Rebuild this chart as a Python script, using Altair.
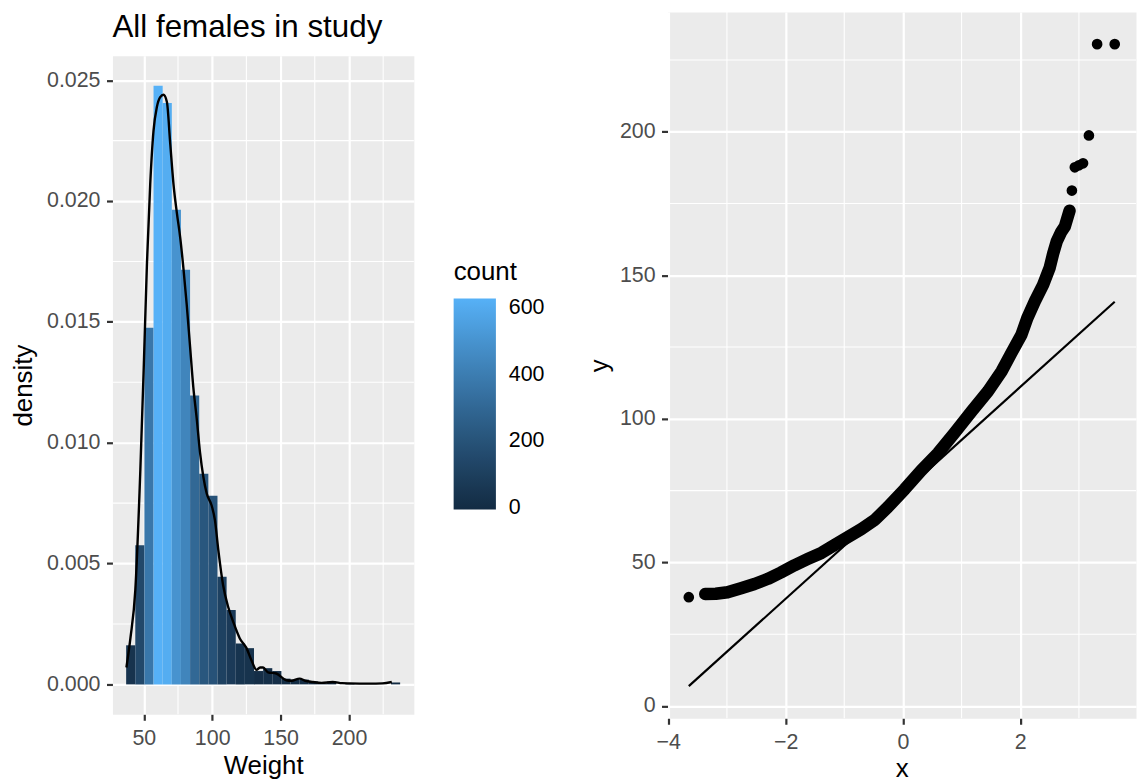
import altair as alt
import pandas as pd

FONT = "Liberation Sans"

# ---------------- left panel: histogram of weight ----------------
bin_lo = [37.10, 43.78, 50.45, 57.13, 63.81, 70.49, 77.16, 83.84, 90.52, 97.19,
          103.87, 110.55, 117.22, 123.90, 130.58, 137.26, 143.93, 150.61, 157.29, 163.96,
          170.64, 177.32, 183.99, 190.67, 197.35, 204.03, 210.70, 217.38, 224.06, 230.73]
bin_hi = [43.78, 50.45, 57.13, 63.81, 70.49, 77.16, 83.84, 90.52, 97.19, 103.87,
          110.55, 117.22, 123.90, 130.58, 137.26, 143.93, 150.61, 157.29, 163.96, 170.64,
          177.32, 183.99, 190.67, 197.35, 204.03, 210.70, 217.38, 224.06, 230.73, 237.41]
bin_count = [41, 146, 374, 628, 610, 498, 435, 303, 221, 198,
             113, 78, 43, 38, 14, 17, 14, 6, 5, 5,
             3, 1, 3, 0, 1, 0, 0, 0, 0, 2]

kde_x = [37.3, 40.2, 43.8, 47.5, 49.9, 52.3, 54.7, 57.1, 59.6, 62.0, 64.4, 66.9,
         69.3, 71.7, 74.2, 76.6, 79.0, 81.4, 83.8, 86.2, 88.7, 91.1, 93.5, 96.0,
         99.6, 102.0, 104.4, 108.0, 111.7, 115.3, 120.2, 125.1, 128.7, 132.4,
         135.0, 137.2, 140.8, 146.9, 154.2, 158.0, 163.9, 168.0, 173.6, 180.0,
         188.1, 195.0, 200.3, 215.0, 224.5, 231.3]
kde_y = [0.0007, 0.0019, 0.0039, 0.0089, 0.0130, 0.0174, 0.0207, 0.0229, 0.0239, 0.0243,
         0.0244, 0.0241, 0.0224, 0.0207, 0.0195, 0.0185, 0.0172, 0.0157, 0.0140, 0.0123,
         0.0110, 0.0096, 0.0086, 0.0079, 0.0074, 0.0068, 0.0056, 0.0041, 0.0032, 0.0026,
         0.0019, 0.0015, 0.0010, 0.0006, 0.0007, 0.0007, 0.0005, 0.00045, 0.00017, 0.00015,
         0.00024, 0.00015, 0.0001, 0.00006, 0.0001, 0.00005, 0.00004, 0.00003, 0.00004, 0.0001]

hx_major = [50, 100, 150, 200]
hx_minor = [75, 125, 175, 225]
hy_major = [0, 0.005, 0.010, 0.015, 0.020, 0.025]
hy_minor = [0.0025, 0.0075, 0.0125, 0.0175, 0.0225]
legend_values = [0, 200, 400, 600]

# ---------------- right panel: normal QQ plot ----------------
band_x = [-3.37, -3.19, -2.99, -2.76, -2.53, -2.30, -2.08, -1.85, -1.62, -1.39,
          -1.17, -0.94, -0.71, -0.48, -0.26, 0.03, 0.31, 0.60, 0.88, 1.17,
          1.45, 1.68, 1.85, 2.02, 2.12, 2.25, 2.39, 2.50, 2.56, 2.62,
          2.70, 2.76, 2.84]
band_y = [39.0, 39.1, 39.6, 41.0, 42.5, 44.3, 46.5, 49.0, 51.2, 53.3,
          56.0, 58.8, 61.6, 64.8, 69.2, 75.5, 82.0, 88.1, 95.1, 102.6,
          109.6, 116.5, 123.0, 129.3, 135.1, 141.0, 146.7, 152.5, 157.5, 161.7,
          165.2, 167.0, 172.5]
pt_x = [-3.65, 2.88, 2.93, 3.00, 3.07, 3.17, 3.31, 3.61]
pt_y = [37.9, 179.5, 187.6, 188.3, 189.0, 198.7, 230.5, 230.5]
qqline_x = [-3.65, 3.61]
qqline_y = [6.9, 140.8]

qx_major = [-4, -2, 0, 2, 4]
qx_minor = [-3, -1, 1, 3]
qy_major = [0, 50, 100, 150, 200]
qy_minor = [25, 75, 125, 175, 225]

TITLE = "All females in study"

# ---------------- build tables ----------------
hist = pd.DataFrame({"lo": bin_lo, "hi": bin_hi, "count": bin_count})
N = hist["count"].sum()
bw = (bin_hi[-1] - bin_lo[0]) / len(bin_lo)
hist["density"] = hist["count"] / (N * bw)
hist["base"] = 0.0
kde = pd.DataFrame({"x": kde_x, "y": kde_y})

xr = bin_hi[-1] - bin_lo[0]
dmax = float(hist["density"].max())
hx_scale = alt.Scale(domain=[bin_lo[0] - 0.05 * xr, bin_hi[-1] + 0.05 * xr], nice=False, zero=False)
hy_scale = alt.Scale(domain=[-0.05 * dmax, 1.05 * dmax], nice=False, zero=False)

hx_axis = alt.Axis(values=hx_major, title="Weight", labelPadding=7, titlePadding=4)
hy_axis = alt.Axis(values=hy_major, format=".3f", title="density", titlePadding=10)

GRID = "white"

h_rx = alt.Chart(pd.DataFrame({"v": hx_minor})).mark_rule(color=GRID, strokeWidth=1.1).encode(
    x=alt.X("v:Q", scale=hx_scale, axis=hx_axis))
h_ry = alt.Chart(pd.DataFrame({"v": hy_minor})).mark_rule(color=GRID, strokeWidth=1.1).encode(
    y=alt.Y("v:Q", scale=hy_scale, axis=hy_axis))

cmax = int(hist["count"].max())
bars = alt.Chart(hist).mark_bar().encode(
    x=alt.X("lo:Q", scale=hx_scale, axis=hx_axis),
    x2="hi:Q",
    y=alt.Y("density:Q", scale=hy_scale, axis=hy_axis),
    y2="base:Q",
    color=alt.Color(
        "count:Q",
        scale=alt.Scale(domain=[-0.005 * cmax, cmax], range=["#132B43", "#56B1F7"], interpolate="lab"),
        legend=alt.Legend(
            title="count", orient="none", legendX=343, legendY=204,
            values=legend_values, gradientLength=212, gradientThickness=42.5,
            titleFontSize=26, titleFont=FONT, titleFontWeight="normal", titleColor="black",
            titlePadding=14, labelFontSize=21.5, labelFont=FONT, labelColor="black",
            labelOffset=13, labelBaseline="middle", padding=0, direction="vertical",
        ),
    ),
)

kde_line = alt.Chart(kde).mark_line(color="black", strokeWidth=2.4, interpolate="monotone").encode(
    x=alt.X("x:Q", scale=hx_scale, axis=hx_axis),
    y=alt.Y("y:Q", scale=hy_scale, axis=hy_axis),
)

hist_view = alt.layer(h_rx, h_ry, bars, kde_line).properties(width=303, height=662)

# a thin transparent strip that carries the panel title underneath it
title_holder = alt.Chart(pd.DataFrame({"v": [0]})).mark_point(opacity=0, size=0).properties(
    width=303, height=1,
    view=alt.ViewBackground(fill="transparent", stroke="transparent"),
    title=alt.TitleParams(TITLE, orient="bottom", anchor="start", frame="group", fontSize=31.5,
                          font=FONT, fontWeight="normal", color="black", offset=24,
                          baseline="alphabetic"),
)

left = (
    alt.vconcat(title_holder, hist_view, spacing=10)
    .resolve_scale(color="independent")
    .resolve_legend(color="independent")
)

# right panel
allx = pt_x + band_x + qqline_x
ally = pt_y + band_y + qqline_y
qxr = max(allx) - min(allx)
qyr = max(ally) - min(ally)
qx_scale = alt.Scale(domain=[min(allx) - 0.05 * qxr, max(allx) + 0.05 * qxr], nice=False, zero=False)
qy_scale = alt.Scale(domain=[min(ally) - 0.05 * qyr, max(ally) + 0.05 * qyr], nice=False, zero=False)
qx_axis = alt.Axis(values=qx_major, title="x", labelPadding=7, titlePadding=3)
qy_axis = alt.Axis(values=qy_major, title="y", titlePadding=7)

q_rx = alt.Chart(pd.DataFrame({"v": qx_minor})).mark_rule(color=GRID, strokeWidth=1.1).encode(
    x=alt.X("v:Q", scale=qx_scale, axis=qx_axis))
q_ry = alt.Chart(pd.DataFrame({"v": qy_minor})).mark_rule(color=GRID, strokeWidth=1.1).encode(
    y=alt.Y("v:Q", scale=qy_scale, axis=qy_axis))

band = alt.Chart(pd.DataFrame({"x": band_x, "y": band_y})).mark_line(
    color="black", strokeWidth=12.5, strokeCap="round", strokeJoin="round").encode(
    x=alt.X("x:Q", scale=qx_scale, axis=qx_axis),
    y=alt.Y("y:Q", scale=qy_scale, axis=qy_axis),
)
pts = alt.Chart(pd.DataFrame({"x": pt_x, "y": pt_y})).mark_circle(color="black", size=115, opacity=1).encode(
    x=alt.X("x:Q", scale=qx_scale, axis=qx_axis),
    y=alt.Y("y:Q", scale=qy_scale, axis=qy_axis),
)
qline = alt.Chart(pd.DataFrame({"x": qqline_x, "y": qqline_y})).mark_line(color="black", strokeWidth=2.2).encode(
    x=alt.X("x:Q", scale=qx_scale, axis=qx_axis),
    y=alt.Y("y:Q", scale=qy_scale, axis=qy_axis),
)

right = alt.layer(q_rx, q_ry, band, pts, qline).properties(width=471, height=710)

chart = (
    alt.concat(left, right, columns=2, spacing=40, align="none")
    .resolve_scale(color="independent")
    .resolve_legend(color="independent")
    .properties(padding={"left": 2, "top": 0, "right": 0, "bottom": 0}, background="white")
    .configure_axis(
        labelFont=FONT, labelFontSize=21.5, labelColor="#4D4D4D",
        titleFont=FONT, titleFontSize=26, titleColor="black", titleFontWeight="normal",
        tickColor="#333333", tickWidth=2.2, tickSize=6, domain=False,
        grid=True, gridColor=GRID, gridWidth=2.2, labelPadding=6.5,
        labelFlush=False, labelOverlap=False,
    )
    .configure_view(fill="#EBEBEB", stroke="transparent")
)

chart.save("out.html", embed_options={"renderer": "svg", "actions": False})
